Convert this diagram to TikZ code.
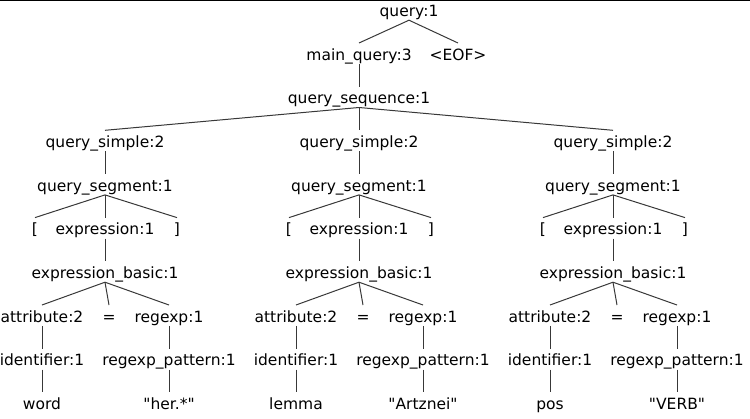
\documentclass[tikz,border=0pt]{standalone}
\usepackage{fontspec}
\setmainfont[Ligatures=TeXOff]{DejaVu Sans}
\begin{document}
\begin{tikzpicture}[x=1pt,y=-1pt,
  lbl/.style={inner sep=0pt, text height=17pt, text depth=3.5pt,
    font=\fontsize{15.5}{18}\selectfont, anchor=base},
  edge/.style={draw=black!78, line width=1pt}]
\useasboundingbox (0,0) rectangle (750,418);
\draw[line width=1.3pt] (0,0.6) -- (750,0.6);
\node[lbl] (q) at (409,16.5) {query:1};
\node[lbl] (mq) at (359,60.2) {main\_query:3};
\node[lbl] (eof) at (458,60.2) {<EOF>};
\node[lbl] (qseq) at (359,103.8) {query\_sequence:1};
\draw[edge] (q.south) -- (mq.north);
\draw[edge] (q.south) -- (eof.north);
\draw[edge] (mq.south) -- (qseq.north);
\foreach \k/\w/\p in {0/word/"her.*",1/lemma/"Artznei",2/pos/"VERB"}{
  \pgfmathsetmacro\o{254*\k}
  \node[lbl] (qsi\k) at ({105+\o},147.5) {query\_simple:2};
  \node[lbl] (qsg\k) at ({105+\o},191.2) {query\_segment:1};
  \node[lbl] (lb\k) at ({35+\o},234.8) {[};
  \node[lbl] (ex\k) at ({105+\o},234.8) {expression:1};
  \node[lbl] (rb\k) at ({177+\o},234.8) {]};
  \node[lbl] (eb\k) at ({105+\o},278.5) {expression\_basic:1};
  \node[lbl] (at\k) at ({42+\o},322.2) {attribute:2};
  \node[lbl] (eq\k) at ({109+\o},322.2) {=};
  \node[lbl] (re\k) at ({169+\o},322.2) {regexp:1};
  \node[lbl] (id\k) at ({42+\o},365.8) {identifier:1};
  \node[lbl] (rp\k) at ({169+\o},365.8) {regexp\_pattern:1};
  \node[lbl] (lw\k) at ({42+\o},409.5) {\w};
  \node[lbl] (lp\k) at ({169+\o},409.5) {\p};
  \draw[edge] (qseq.south) -- (qsi\k.north);
  \draw[edge] (qsi\k.south) -- (qsg\k.north);
  \draw[edge] (qsg\k.south) -- (lb\k.north);
  \draw[edge] (qsg\k.south) -- (ex\k.north);
  \draw[edge] (qsg\k.south) -- (rb\k.north);
  \draw[edge] (ex\k.south) -- (eb\k.north);
  \draw[edge] (eb\k.south) -- (at\k.north);
  \draw[edge] (eb\k.south) -- (eq\k.north);
  \draw[edge] (eb\k.south) -- (re\k.north);
  \draw[edge] (at\k.south) -- (id\k.north);
  \draw[edge] (re\k.south) -- (rp\k.north);
  \draw[edge] (id\k.south) -- (lw\k.north);
  \draw[edge] (rp\k.south) -- (lp\k.north);
}
\end{tikzpicture}
\end{document}
